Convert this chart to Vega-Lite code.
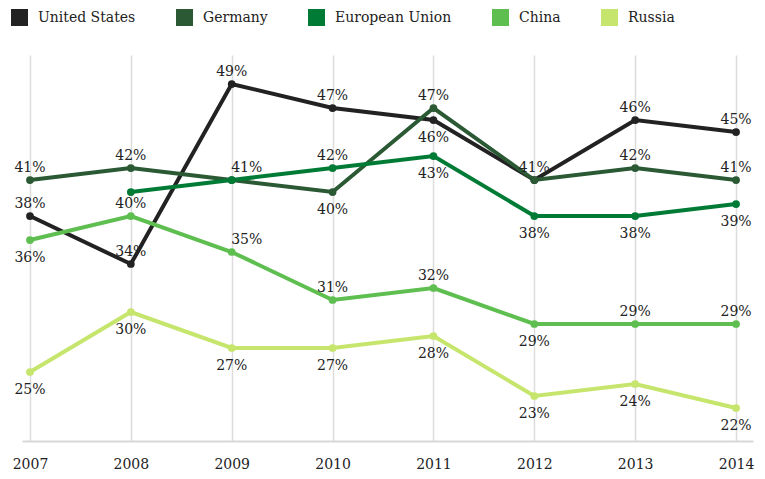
{
  "$schema": "https://vega.github.io/schema/vega-lite/v6.json",
  "width": 731,
  "height": 386,
  "autosize": "none",
  "padding": {"left": 22, "top": 55, "right": 12, "bottom": 38},
  "config": {
    "view": {"stroke": null},
    "font": "DejaVu Serif",
    "text": {"font": "DejaVu Serif", "fontSize": 14, "color": "#222222"}
  },
  "data": {
    "values": [
      {"series": "United States", "year": 2007, "value": 38, "label": "38%"},
      {"series": "United States", "year": 2008, "value": 34, "label": "34%"},
      {"series": "United States", "year": 2009, "value": 49, "label": "49%"},
      {"series": "United States", "year": 2010, "value": 47, "label": "47%"},
      {"series": "United States", "year": 2011, "value": 46, "label": "46%"},
      {"series": "United States", "year": 2012, "value": 41, "label": "41%"},
      {"series": "United States", "year": 2013, "value": 46, "label": "46%"},
      {"series": "United States", "year": 2014, "value": 45, "label": "45%"},
      {"series": "Germany", "year": 2007, "value": 41, "label": "41%"},
      {"series": "Germany", "year": 2008, "value": 42, "label": "42%"},
      {"series": "Germany", "year": 2009, "value": 41, "label": "41%"},
      {"series": "Germany", "year": 2010, "value": 40, "label": "40%"},
      {"series": "Germany", "year": 2011, "value": 47, "label": "47%"},
      {"series": "Germany", "year": 2012, "value": 41, "label": null},
      {"series": "Germany", "year": 2013, "value": 42, "label": "42%"},
      {"series": "Germany", "year": 2014, "value": 41, "label": "41%"},
      {"series": "European Union", "year": 2008, "value": 40, "label": null},
      {"series": "European Union", "year": 2009, "value": 41, "label": null},
      {"series": "European Union", "year": 2010, "value": 42, "label": "42%"},
      {"series": "European Union", "year": 2011, "value": 43, "label": "43%"},
      {"series": "European Union", "year": 2012, "value": 38, "label": "38%"},
      {"series": "European Union", "year": 2013, "value": 38, "label": "38%"},
      {"series": "European Union", "year": 2014, "value": 39, "label": "39%"},
      {"series": "China", "year": 2007, "value": 36, "label": "36%"},
      {"series": "China", "year": 2008, "value": 38, "label": "40%"},
      {"series": "China", "year": 2009, "value": 35, "label": "35%"},
      {"series": "China", "year": 2010, "value": 31, "label": "31%"},
      {"series": "China", "year": 2011, "value": 32, "label": "32%"},
      {"series": "China", "year": 2012, "value": 29, "label": "29%"},
      {"series": "China", "year": 2013, "value": 29, "label": "29%"},
      {"series": "China", "year": 2014, "value": 29, "label": "29%"},
      {"series": "Russia", "year": 2007, "value": 25, "label": "25%"},
      {"series": "Russia", "year": 2008, "value": 30, "label": "30%"},
      {"series": "Russia", "year": 2009, "value": 27, "label": "27%"},
      {"series": "Russia", "year": 2010, "value": 27, "label": "27%"},
      {"series": "Russia", "year": 2011, "value": 28, "label": "28%"},
      {"series": "Russia", "year": 2012, "value": 23, "label": "23%"},
      {"series": "Russia", "year": 2013, "value": 24, "label": "24%"},
      {"series": "Russia", "year": 2014, "value": 22, "label": "22%"}
    ]
  },
  "encoding": {
    "x": {
      "field": "year",
      "type": "quantitative",
      "scale": {"domain": [2006.921, 2014.168], "nice": false, "zero": false},
      "axis": {
        "title": null,
        "values": [2007, 2008, 2009, 2010, 2011, 2012, 2013, 2014],
        "format": "d",
        "ticks": false,
        "grid": true,
        "gridColor": "#dcdcdc",
        "gridWidth": 1.5,
        "domainColor": "#d8d8d8",
        "domainWidth": 2,
        "labelFont": "DejaVu Serif",
        "labelFontSize": 14,
        "labelColor": "#222222",
        "labelPadding": 16,
        "labelFlush": false
      }
    },
    "y": {
      "field": "value",
      "type": "quantitative",
      "scale": {"domain": [19.25, 51.417], "nice": false, "zero": false},
      "axis": null
    }
  },
  "layer": [
    {
      "mark": {"type": "line", "strokeWidth": 4, "strokeJoin": "miter"},
      "encoding": {
        "color": {
          "field": "series",
          "type": "nominal",
          "scale": {
            "domain": ["United States", "Germany", "European Union", "China", "Russia"],
            "range": ["#222222", "#2a5934", "#007b36", "#5ebf50", "#c6e56c"]
          },
          "legend": {
            "title": null,
            "orient": "none",
            "legendX": -11,
            "legendY": -46,
            "direction": "horizontal",
            "symbolType": "square",
            "symbolSize": 289,
            "symbolStrokeWidth": 0,
            "symbolOpacity": 1,
            "labelFont": "DejaVu Serif",
            "labelFontSize": 14,
            "labelColor": "#222222",
            "labelOffset": 10,
            "columnPadding": 40,
            "encode": {
              "symbols": {
                "update": {
                  "fill": {"scale": "color", "field": "value"},
                  "strokeWidth": {"value": 0}
                }
              }
            }
          }
        }
      }
    },
    {
      "mark": {"type": "circle", "size": 60, "opacity": 1},
      "encoding": {
        "color": {"field": "series", "type": "nominal"}
      }
    },
    {
      "transform": [
        {"filter": "datum.label != null && datum.series != 'Russia' && indexof(['United States|2011','Germany|2010','European Union|2011','European Union|2012','European Union|2013','European Union|2014','China|2007','China|2012','Germany|2009','China|2009'], datum.series + '|' + datum.year) < 0"}
      ],
      "mark": {"type": "text", "baseline": "alphabetic", "dy": -8},
      "encoding": {"text": {"field": "label"}}
    },
    {
      "transform": [
        {"filter": "datum.label != null && indexof(['Germany|2009','China|2009'], datum.series + '|' + datum.year) >= 0"}
      ],
      "mark": {"type": "text", "baseline": "alphabetic", "dy": -8, "dx": 15},
      "encoding": {"text": {"field": "label"}}
    },
    {
      "transform": [
        {"filter": "datum.label != null && (datum.series == 'Russia' || indexof(['United States|2011','Germany|2010','European Union|2011','European Union|2012','European Union|2013','European Union|2014','China|2007','China|2012'], datum.series + '|' + datum.year) >= 0)"}
      ],
      "mark": {"type": "text", "baseline": "alphabetic", "dy": 22},
      "encoding": {"text": {"field": "label"}}
    }
  ]
}
